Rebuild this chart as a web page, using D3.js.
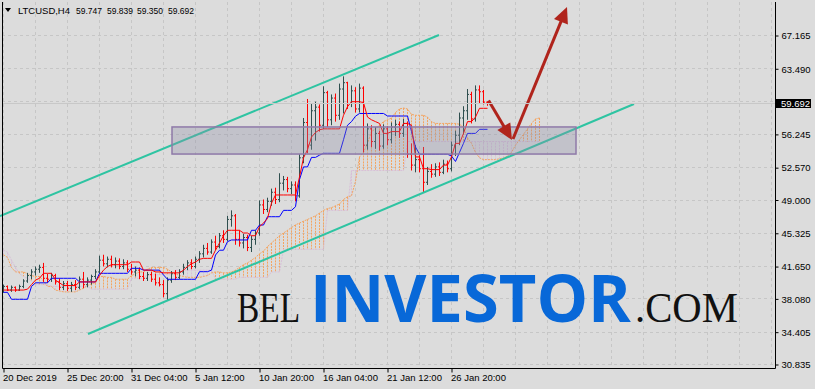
<!DOCTYPE html>
<html>
<head>
<meta charset="utf-8">
<script src="https://cdn.jsdelivr.net/npm/d3@7"></script>
<style>
html, body { margin: 0; padding: 0; background: #dcdcdc; }
svg { display: block; }
</style>
</head>
<body>
<div id="chart-area"></div>
<script>
// tick labels
var timeLabels = ["20 Dec 2019", "25 Dec 20:00", "31 Dec 04:00", "5 Jan 12:00", "10 Jan 20:00", "16 Jan 04:00", "21 Jan 12:00", "26 Jan 20:00"];
var timeTickBars = [0, 16, 32, 48, 64, 80, 96, 112];
var priceTicks = [67.165, 63.490, 59.867, 56.245, 52.570, 49.000, 45.325, 41.650, 38.080, 34.405, 30.835];
var lastPrice = 59.692;
var titleValues = ["59.747", "59.839", "59.350", "59.692"];

// H4 bars (LTCUSD)
var opens = [38.9,39.4,39.0,39.3,39.0,39.4,40.0,40.6,41.0,41.3,41.5,40.3,40.2,40.6,39.9,39.3,39.7,39.2,39.6,39.3,
  40.2,39.6,40.1,40.5,41.0,42.3,41.9,42.4,41.8,42.2,41.6,42.0,41.3,41.0,41.2,40.5,40.3,40.7,40.2,39.8,
  39.6,38.6,40.1,40.8,40.4,41.0,41.5,42.0,41.6,42.4,43.0,43.6,43.2,44.3,43.8,45.0,44.6,46.8,47.2,44.6,
  44.2,44.8,43.7,44.6,45.3,48.4,47.9,48.8,49.8,49.0,50.8,51.2,50.2,50.6,49.4,53.6,57.5,55.0,58.8,59.2,
  57.2,60.8,57.8,60.2,58.3,61.2,61.9,59.6,61.0,59.0,61.3,55.0,56.8,55.4,56.3,54.9,56.8,55.6,57.0,57.3,
  56.3,57.4,54.0,52.8,53.4,52.4,50.9,52.1,51.8,52.6,52.0,52.9,52.4,55.0,56.1,58.0,58.8,60.6,57.9,61.1,
  60.9,59.747];
var highs = [39.6,39.5,39.5,39.4,39.6,40.2,40.9,41.3,41.6,41.8,42.0,40.8,40.9,40.8,40.3,40.0,40.0,39.9,40.1,40.5,
  41.0,40.4,40.7,41.3,42.8,42.9,42.7,42.8,42.6,42.5,42.4,42.3,41.9,41.6,41.5,41.0,41.0,41.0,40.8,40.4,
  40.1,40.4,41.1,41.2,41.3,41.9,42.3,42.4,42.7,43.3,44.0,44.2,44.6,45.0,45.3,45.6,47.2,47.8,47.4,45.6,
  45.2,45.1,45.0,45.6,48.9,49.0,49.2,50.2,50.3,51.9,51.6,51.5,51.0,51.0,54.0,58.0,60.1,59.6,59.8,59.5,
  61.5,61.0,60.6,60.7,61.8,62.6,62.0,61.6,61.4,61.8,61.5,57.4,57.2,57.0,56.6,57.3,57.1,57.5,57.8,57.6,
  57.9,57.6,55.2,55.0,53.9,54.8,52.6,52.9,53.0,53.1,53.4,53.3,55.4,56.6,58.6,59.3,61.2,60.9,61.6,61.6,
  61.1,59.839];
var lows = [38.7,38.9,38.8,38.8,38.9,39.2,39.8,40.2,40.6,40.9,39.9,39.8,39.9,39.6,39.0,39.0,38.9,38.8,39.0,39.1,
  39.2,39.3,39.6,40.2,40.8,41.6,41.5,41.5,41.4,41.3,41.3,41.0,40.7,40.5,40.2,40.0,40.0,39.9,39.5,39.4,
  38.2,37.9,39.8,40.1,40.2,40.7,41.2,41.3,41.4,42.0,42.6,42.9,43.0,43.4,43.6,44.2,44.4,46.0,44.0,43.8,
  43.6,43.3,43.2,44.0,45.0,47.4,47.6,48.3,48.5,48.7,50.0,49.8,49.6,48.8,49.2,53.0,54.1,54.5,55.5,56.5,
  56.8,57.0,57.2,57.6,57.8,58.5,59.0,59.2,58.6,58.6,54.2,54.5,54.8,54.6,54.4,54.6,55.0,55.2,56.0,55.8,
  55.9,53.6,52.2,52.0,52.0,49.8,50.6,51.4,51.5,51.6,51.8,52.0,52.1,53.8,55.0,56.2,57.8,57.4,57.6,59.6,
  59.5,59.350];
var closes = [39.4,39.0,39.3,39.0,39.4,40.0,40.6,41.0,41.3,41.5,40.3,40.2,40.6,39.9,39.3,39.7,39.2,39.6,39.3,40.2,
  39.6,40.1,40.5,41.0,42.3,41.9,42.4,41.8,42.2,41.6,42.0,41.3,41.0,41.2,40.5,40.3,40.7,40.2,39.8,39.6,
  38.6,40.1,40.8,40.4,41.0,41.5,42.0,41.6,42.4,43.0,43.6,43.2,44.3,43.8,45.0,44.6,46.8,47.2,44.6,44.2,
  44.8,43.7,44.6,45.3,48.4,47.9,48.8,49.8,49.0,50.8,51.2,50.2,50.6,49.4,53.6,57.5,55.0,58.8,59.2,57.2,
  60.8,57.8,60.2,58.3,61.2,61.9,59.6,61.0,59.0,61.3,55.0,56.8,55.4,56.3,54.9,56.8,55.6,57.0,57.3,56.3,
  57.4,54.0,52.8,53.4,52.4,50.9,52.1,51.8,52.6,52.0,52.9,52.4,55.0,56.1,58.0,58.8,60.6,57.9,61.1,60.9,
  59.75,59.692];

// Ichimoku lines
var tenkan = [39.0,39.0,39.0,39.0,39.0,39.0,39.1,39.6,40.1,40.3,40.85,40.85,40.85,40.1,39.8,39.5,39.5,39.5,39.5,39.9,
  39.9,39.9,39.9,39.9,40.6,41.2,41.6,41.8,41.8,41.8,41.8,41.8,42.1,42.1,42.1,41.2,41.2,41.2,41.0,41.0,
  40.9,40.9,40.9,40.9,40.9,41.2,41.6,41.9,42.1,42.4,42.5,42.5,42.5,43.4,44.2,45.0,45.6,45.6,45.6,45.6,
  45.3,45.3,45.0,45.0,46.0,46.4,46.9,48.6,49.5,49.5,49.5,49.5,49.5,49.5,51.5,53.6,54.5,55.9,56.4,56.7,
  56.8,56.8,56.8,56.8,56.8,58.3,59.25,59.8,59.8,59.8,59.7,58.1,57.8,57.6,57.4,56.3,56.3,56.5,56.5,56.5,
  57.4,57.4,57.2,53.7,53.7,52.4,52.4,52.3,52.3,52.3,52.8,52.8,53.7,55.2,55.2,56.3,57.6,57.6,58.1,59.07,
  59.07,59.07];
var kijun = [38.75,38.75,37.98,37.98,37.98,37.98,37.98,39.4,39.8,39.8,39.8,39.8,40.3,40.3,40.3,40.3,40.3,40.3,40.3,39.9,
  39.9,39.9,39.9,39.9,40.85,40.85,40.85,40.85,40.85,40.85,40.85,40.85,41.4,41.4,41.4,41.2,41.2,41.2,41.2,41.2,
  40.67,40.19,40.19,40.19,40.19,40.19,40.19,40.19,40.19,41.03,41.03,41.03,41.2,42.87,43.4,43.4,44.35,44.53,44.53,44.53,
  44.53,44.53,45.6,45.6,46.18,46.18,47.1,47.1,47.1,47.1,47.8,47.8,47.8,48.2,51.2,52.6,52.6,53.65,53.65,53.9,
  54.1,54.1,54.1,54.1,54.1,55.6,57.2,57.6,58.2,58.5,58.5,58.5,58.5,58.5,58.5,58.5,58.22,58.22,58.22,58.22,
  58.22,58.22,56.5,54.8,54.0,54.0,54.0,54.0,54.0,54.0,54.0,54.0,53.8,53.2,54.2,55.2,56.3,56.3,56.3,56.75,
  56.75,56.75];
var spanA = [42.9,42.6,41.5,41.0,41.0,41.0,40.8,40.6,40.5,40.5,40.0,39.4,39.4,39.0,38.9,38.8,38.8,38.8,38.8,39.0,
  39.2,39.5,39.7,39.8,40.5,40.5,40.4,40.4,40.2,40.2,40.2,40.2,40.6,40.8,41.0,41.0,41.3,41.5,41.5,41.5,
  41.5,41.3,41.0,40.8,40.6,40.5,40.4,40.4,40.4,40.4,40.5,40.6,40.9,41.0,41.0,40.9,40.9,41.0,41.2,41.5,
  41.8,42.0,42.3,42.6,43.0,43.3,43.8,44.2,44.6,45.0,45.3,45.6,45.9,46.2,46.4,46.6,46.8,47.0,47.2,47.5,
  47.8,48.0,48.1,48.3,48.5,49.0,49.3,49.4,51.0,53.7,54.2,55.2,56.5,56.8,57.2,57.6,57.8,58.0,58.6,59.0,
  59.1,59.0,58.4,58.3,58.3,58.3,58.1,57.6,57.4,57.4,57.4,57.4,57.4,57.4,57.3,57.0,55.8,55.2,54.2,53.6,
  53.4,53.4,53.4,53.4,53.5,53.6,53.8,54.2,55.0,55.6,56.2,56.8,57.4,57.9,58.0];
var spanB = [43.4,43.2,42.3,41.5,40.8,40.5,40.3,40.0,39.6,39.6,39.6,39.6,39.4,39.4,39.4,39.4,39.4,39.4,39.4,39.4,
  39.4,39.4,39.1,39.1,39.1,39.1,39.1,39.1,39.1,39.1,39.1,39.1,40.3,40.3,40.3,40.3,40.7,40.7,40.7,40.7,
  40.7,40.7,40.7,41.2,41.2,41.2,41.2,41.2,41.2,41.2,41.2,41.2,41.2,40.2,40.2,40.2,40.2,40.2,40.2,40.4,
  40.4,40.4,40.4,40.4,40.4,40.4,40.4,41.0,41.0,41.0,43.5,43.5,43.5,43.5,43.5,43.5,43.5,43.5,43.5,43.5,
  43.5,47.8,47.8,47.8,47.8,47.8,47.8,52.2,52.2,52.2,52.2,52.2,52.2,52.2,52.2,52.2,52.2,52.2,52.2,52.2,
  52.2,55.4,55.4,55.4,55.4,55.4,55.4,55.4,55.4,55.4,55.4,55.4,55.4,55.4,55.4,55.4,55.4,55.4,55.4,55.4,
  55.4,55.4,55.4,55.4,55.4,55.4,55.4,55.4,55.4,55.4,55.4,55.4,55.4,55.4,55.4];

// drawn objects: [bar index, price]
var channelUpper = [[-0.75, 47.18], [109, 67.165]];
var channelLower = [[21.25, 34.15], [157.75, 59.55]];
var zoneBox = [[42.25, 57.01], [143.25, 54.02]];
var arrowDown = [[121.4, 59.93], [127.25, 55.57]];
var arrowUp = [[127.5, 55.68], [141, 70.26]];

var width = 815;
var height = 389;
var plot = {left: 2, right: 775, top: 2, bottom: 368};

var x = d3.scaleLinear().domain([0, 1]).range([3, 7]);
var y = d3.scaleLinear().domain([30.835, 67.165]).range([364, 35]);

var svg = d3.select("#chart-area")
  .append("svg")
  .attr("width", width)
  .attr("height", height)
  .style("font-family", "'Liberation Sans', Arial, sans-serif");

svg.append("rect")
  .attr("width", width)
  .attr("height", height)
  .attr("fill", "#dcdcdc");

// grid
var gridBars = d3.range(0, 193, 8);
svg.append("g").selectAll("line")
  .data(gridBars)
  .enter().append("line")
  .attr("x1", (d) => Math.round(x(d)) + 0.5)
  .attr("x2", (d) => Math.round(x(d)) + 0.5)
  .attr("y1", plot.top)
  .attr("y2", plot.bottom)
  .attr("stroke", "#c6c6c6")
  .attr("stroke-dasharray", "3,3");

svg.append("g").selectAll("line")
  .data(priceTicks)
  .enter().append("line")
  .attr("x1", plot.left)
  .attr("x2", plot.right)
  .attr("y1", (d) => Math.round(y(d)) + 0.5)
  .attr("y2", (d) => Math.round(y(d)) + 0.5)
  .attr("stroke", "#c6c6c6")
  .attr("stroke-dasharray", "3,3");

// watermark (serif parts are narrow, so they are stretched vertically)
var mark = svg.append("g");
mark.append("text")
  .attr("transform", "translate(237,322) scale(1,1.29)")
  .attr("font-family", "'Liberation Serif', 'Times New Roman', serif")
  .attr("font-size", 33.4)
  .attr("fill", "#111")
  .text("BEL");
mark.append("text")
  .attr("x", 310).attr("y", 322)
  .attr("font-family", "'Open Sans', sans-serif")
  .attr("font-weight", "bold")
  .attr("font-size", 67)
  .attr("textLength", 321)
  .attr("lengthAdjust", "spacingAndGlyphs")
  .attr("fill", "#0868d8")
  .text("INVESTOR");
mark.append("text")
  .attr("transform", "translate(635,322) scale(1,1.06)")
  .attr("font-family", "'Liberation Serif', 'Times New Roman', serif")
  .attr("font-size", 40.7)
  .attr("fill", "#111")
  .text(".COM");

// cloud hatch
var cloud = spanA.map((a, i) => ({i: i, a: a, b: spanB[i]}));
svg.append("g").selectAll("line")
  .data(cloud)
  .enter().append("line")
  .attr("x1", (d) => x(d.i) + 0.5)
  .attr("x2", (d) => x(d.i) + 0.5)
  .attr("y1", (d) => y(d.a))
  .attr("y2", (d) => y(d.b))
  .attr("stroke", (d) => d.a >= d.b ? "#f4a460" : "#d8bfd8")
  .attr("stroke-dasharray", "2,1");

var line = d3.line()
  .x((d, i) => x(i) + 0.5)
  .y((d) => y(d));

svg.append("path")
  .attr("d", line(spanB))
  .attr("fill", "none")
  .attr("stroke", "#d8bfd8")
  .attr("stroke-dasharray", "2,1");
svg.append("path")
  .attr("d", line(spanA))
  .attr("fill", "none")
  .attr("stroke", "#f4a460")
  .attr("stroke-dasharray", "2,1");

// bars
var bars = opens.map((o, i) => ({i: i, o: o, h: highs[i], l: lows[i], c: closes[i]}));
svg.append("g").selectAll("path")
  .data(bars)
  .enter().append("path")
  .attr("d", (d) => {
    var cx = x(d.i) + 0.5;
    return "M" + cx + "," + y(d.h) + "V" + y(d.l) +
      "M" + (cx - 1.5) + "," + y(d.o) + "H" + cx +
      "M" + cx + "," + y(d.c) + "H" + (cx + 1.5);
  })
  .attr("fill", "none")
  .attr("stroke", (d) => d.c >= d.o ? "#2f4f4f" : "#ff0000")
  .attr("stroke-width", 1);

svg.append("path")
  .attr("d", line(kijun))
  .attr("fill", "none")
  .attr("stroke", "#0000ff")
  .attr("stroke-width", 1);
svg.append("path")
  .attr("d", line(tenkan))
  .attr("fill", "none")
  .attr("stroke", "#ff0000")
  .attr("stroke-width", 1);

// channel
[channelUpper, channelLower].forEach((c) => {
  svg.append("line")
    .attr("x1", x(c[0][0])).attr("y1", y(c[0][1]))
    .attr("x2", x(c[1][0])).attr("y2", y(c[1][1]))
    .attr("stroke", "#2ec4a2")
    .attr("stroke-width", 2);
});

// zone rectangle
svg.append("rect")
  .attr("x", x(zoneBox[0][0]))
  .attr("y", y(zoneBox[0][1]))
  .attr("width", x(zoneBox[1][0]) - x(zoneBox[0][0]))
  .attr("height", y(zoneBox[1][1]) - y(zoneBox[0][1]))
  .attr("fill", "rgba(140,140,165,0.32)")
  .attr("stroke", "#8f7aa8")
  .attr("stroke-width", 1.5);

// arrows
function drawArrow(a) {
  var x1 = x(a[0][0]), y1 = y(a[0][1]), x2 = x(a[1][0]), y2 = y(a[1][1]);
  var dx = x2 - x1, dy = y2 - y1, len = Math.sqrt(dx * dx + dy * dy);
  var ux = dx / len, uy = dy / len;
  var hl = 16, hw = 7.5;
  var bx = x2 - ux * hl, by = y2 - uy * hl;
  svg.append("line")
    .attr("x1", x1).attr("y1", y1)
    .attr("x2", bx + ux * 2).attr("y2", by + uy * 2)
    .attr("stroke", "#b0241c")
    .attr("stroke-width", 3);
  svg.append("path")
    .attr("d", "M" + x2 + "," + y2 +
      "L" + (bx - uy * hw) + "," + (by + ux * hw) +
      "L" + (bx + uy * hw) + "," + (by - ux * hw) + "Z")
    .attr("fill", "#b0241c");
}
drawArrow(arrowDown);
drawArrow(arrowUp);

// bid line
svg.append("line")
  .attr("x1", plot.left).attr("x2", plot.right)
  .attr("y1", Math.round(y(lastPrice)) + 0.5)
  .attr("y2", Math.round(y(lastPrice)) + 0.5)
  .attr("stroke", "#c8c8c8");

// frame
svg.append("path")
  .attr("d", "M" + (plot.left + 0.5) + "," + plot.top + "V" + (plot.bottom + 0.5) +
    "H" + (plot.right + 0.5) + "V" + plot.top)
  .attr("fill", "none")
  .attr("stroke", "#000");

// price axis
var yAxis = d3.axisRight(y)
  .tickValues(priceTicks)
  .tickSize(3)
  .tickSizeOuter(0)
  .tickFormat(d3.format(".3f"));
var yAxisGroup = svg.append("g")
  .attr("transform", "translate(" + (plot.right + 0.5) + ",0.5)")
  .call(yAxis);
yAxisGroup.select(".domain").remove();
yAxisGroup.selectAll("text")
  .attr("x", 6)
  .attr("dy", "0.35em")
  .style("font-size", "9.5px")
  .attr("fill", "#000");

// time axis
var xAxis = d3.axisBottom(x)
  .tickValues(timeTickBars)
  .tickSize(4)
  .tickSizeOuter(0)
  .tickFormat((d, i) => timeLabels[i]);
var xAxisGroup = svg.append("g")
  .attr("transform", "translate(0.5," + (plot.bottom + 0.5) + ")")
  .call(xAxis);
xAxisGroup.select(".domain").remove();
xAxisGroup.selectAll("text")
  .attr("y", 12.5)
  .attr("dy", 0)
  .attr("x", -1)
  .style("text-anchor", "start")
  .style("font-size", "9.5px")
  .attr("fill", "#000");

// last price tag
var tagY = Math.round(y(lastPrice));
svg.append("rect")
  .attr("x", 776).attr("y", tagY - 4)
  .attr("width", 35).attr("height", 9)
  .attr("fill", "#000");
svg.append("text")
  .attr("x", 781).attr("y", tagY + 4)
  .style("font-size", "9.5px")
  .attr("fill", "#fff")
  .text(lastPrice.toFixed(3));

// title
svg.append("path")
  .attr("d", "M5,8H11L8,12Z")
  .attr("fill", "#000");
svg.append("text")
  .attr("x", 18).attr("y", 13.5)
  .style("font-size", "9.5px")
  .attr("textLength", 52)
  .attr("lengthAdjust", "spacingAndGlyphs")
  .text("LTCUSD,H4");
var titleX = [76, 107, 137, 168];
titleValues.forEach((v, i) => {
  svg.append("text")
    .attr("x", titleX[i]).attr("y", 13.5)
    .style("font-size", "9.5px")
    .attr("textLength", 26)
    .attr("lengthAdjust", "spacingAndGlyphs")
    .text(v);
});
</script>
</body>
</html>
